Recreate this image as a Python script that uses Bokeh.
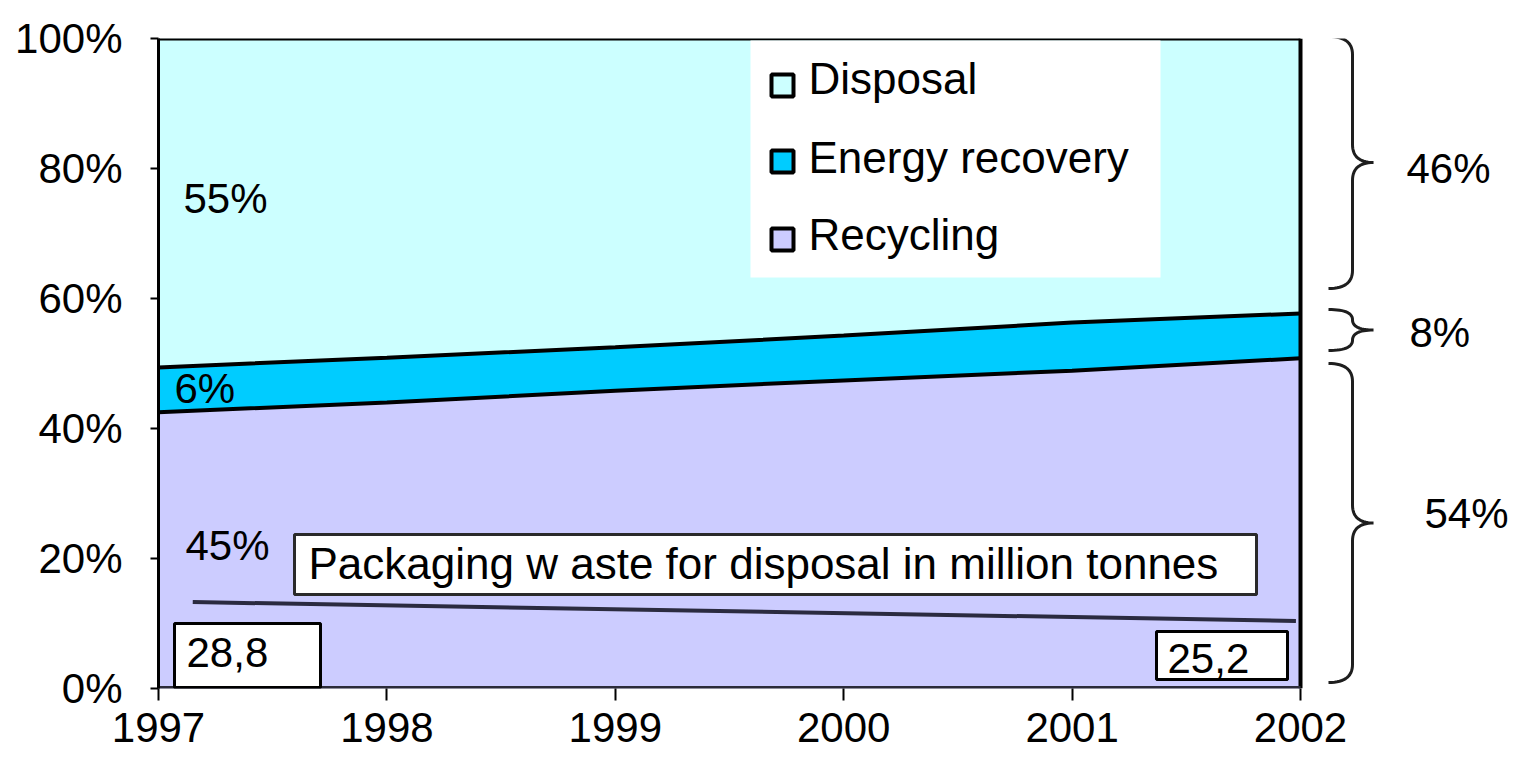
import numpy as np
from bokeh.plotting import figure
from bokeh.models import Range1d, FixedTicker
from bokeh.embed import file_html
from bokeh.resources import INLINE
from bokeh.core.properties import value

# ---------------- data ----------------
years = [1997, 1998, 1999, 2000, 2001, 2002]
recycling = [42.5, 44.0, 45.8, 47.4, 48.9, 50.8]
energy = [6.9, 6.9, 6.7, 6.9, 7.4, 6.9]
series_names = ["Disposal", "Energy recovery", "Recycling"]
series_colors = ["#CCFFFF", "#00CCFF", "#CCCCFF"]
share_labels = ["55%", "6%", "45%"]
brace_labels = ["46%", "8%", "54%"]
waste_years = [1997.15, 2001.98]
waste_line = [13.3, 10.4]
waste_tonnes = ["28,8", "25,2"]
waste_title = "Packaging w aste for disposal in million tonnes"
y_ticks = [0, 20, 40, 60, 80, 100]
y_tick_labels = ["0%", "20%", "40%", "60%", "80%", "100%"]
x_tick_labels = ["1997", "1998", "1999", "2000", "2001", "2002"]

FONT = "Liberation Sans"
FS = "42px"
FS_IN = "44px"

# layout helpers (reference pixel -> data units)
W, H = 1513, 759
LEFT, TOP = 158, 38
FRAME_H = 650
PX_YEAR = 228.4
X0_REF, Y0_REF = LEFT, TOP + FRAME_H
PX_PCT = FRAME_H / 100.0


def dx(px):
    return 1997 + (px - X0_REF) / PX_YEAR


def dy(py):
    return (Y0_REF - py) / PX_PCT


x_end = 1997 + (W - LEFT) / PX_YEAR

p = figure(width=W, height=H, output_backend="svg", toolbar_location=None,
           x_range=Range1d(1997, x_end), y_range=Range1d(0, 100),
           min_border_left=LEFT, min_border_right=0, min_border_top=TOP,
           min_border_bottom=H - TOP - FRAME_H)
p.outline_line_color = None
p.grid.grid_line_color = None
p.background_fill_color = "white"

yrs = np.array(years, dtype=float)
rec = np.array(recycling)
top = rec + np.array(energy)

# stacked areas
p.varea(x=yrs, y1=np.zeros_like(rec), y2=rec, fill_color=series_colors[2])
p.varea(x=yrs, y1=rec, y2=top, fill_color=series_colors[1])
p.varea(x=yrs, y1=top, y2=np.full_like(rec, 100.0), fill_color=series_colors[0])
p.line(yrs, rec, line_color="black", line_width=4)
p.line(yrs, top, line_color="black", line_width=4)

# frame borders
p.line([years[0], years[-1]], [100, 100], line_color="black", line_width=4)
p.line([years[-1], years[-1]], [0, 100], line_color="black", line_width=4)
p.line([years[0], years[-1]], [0, 0], line_color="#2b2b3a", line_width=5)

# axes
p.yaxis.ticker = FixedTicker(ticks=y_ticks)
p.yaxis.major_label_overrides = {t: l for t, l in zip(y_ticks, y_tick_labels)}
p.yaxis.axis_line_color = "black"
p.yaxis.axis_line_width = 3
p.yaxis.major_tick_in = 0
p.yaxis.major_tick_out = 8
p.yaxis.major_tick_line_width = 2
p.yaxis.minor_tick_line_color = None
p.yaxis.major_label_standoff = 28

p.xaxis.ticker = FixedTicker(ticks=years)
p.xaxis.major_label_overrides = {y: l for y, l in zip(years, x_tick_labels)}
p.xaxis.axis_line_color = None
p.xaxis.major_tick_in = 0
p.xaxis.major_tick_out = 12
p.xaxis.major_tick_line_width = 2
p.xaxis.major_tick_line_color = "black"
p.xaxis.minor_tick_line_color = None
p.xaxis.major_label_standoff = 12

for ax in (p.xaxis, p.yaxis):
    ax.major_label_text_font = FONT
    ax.major_label_text_font_size = FS
    ax.major_label_text_color = "black"

# share labels inside areas
p.text(x=[dx(183), dx(174), dx(185)], y=[dy(198), dy(388), dy(545)],
       text=share_labels, text_font=value(FONT), text_font_size=FS,
       text_baseline="middle", text_align="left", text_color="black")

# legend box
p.quad(left=dx(750), right=dx(1160), top=dy(40), bottom=dy(277),
       fill_color="white", line_color=None)
p.scatter(x=[dx(782)] * 3, y=[dy(85), dy(161), dy(239)], marker="square",
          size=22, fill_color=series_colors, line_color="black", line_width=4)
p.text(x=[dx(808)] * 3, y=[dy(78), dy(157), dy(234)], text=series_names,
       text_font=value(FONT), text_font_size=FS_IN, text_baseline="middle",
       text_align="left", text_color="black")

# packaging waste annotation
p.quad(left=dx(294), right=dx(1256), top=dy(534), bottom=dy(594),
       fill_color="white", line_color="#2a2a2a", line_width=3)
p.text(x=[dx(308)], y=[dy(563)], text=[waste_title], text_font=value(FONT),
       text_font_size=FS_IN, text_baseline="middle", text_align="left",
       text_color="black")
p.line(waste_years, waste_line, line_color="#2b2b40", line_width=4)
p.quad(left=[dx(174), dx(1156)], right=[dx(320), dx(1287)],
       top=[dy(623), dy(631)], bottom=[dy(687), dy(679)],
       fill_color="white", line_color="black", line_width=3)
p.text(x=[dx(186), dx(1167)], y=[dy(652), dy(658)], text=waste_tonnes,
       text_font=value(FONT), text_font_size=FS, text_baseline="middle",
       text_align="left", text_color="black")


# braces on the right
def qbez(p0, p1, p2, n=16):
    t = np.linspace(0, 1, n)
    xs = (1 - t) ** 2 * p0[0] + 2 * (1 - t) * t * p1[0] + t ** 2 * p2[0]
    ys = (1 - t) ** 2 * p0[1] + 2 * (1 - t) * t * p1[1] + t ** 2 * p2[1]
    return list(xs), list(ys)


def brace(t, b, xl=1328, xv=1352, xt=1373):
    m = (t + b) / 2.0
    c = min(18, (b - t) / 4.0)
    xs, ys = [], []
    for seg in [((xl, t), (xv, t), (xv, t + c)),
                ((xv, m - c), (xv, m), (xt, m)),
                ((xt, m), (xv, m), (xv, m + c)),
                ((xv, b - c), (xv, b), (xl, b))]:
        a, bb = qbez(*seg)
        xs += a
        ys += bb
    return [dx(v) for v in xs], [dy(v) for v in ys]


brace_spans = [(36, 288), (309, 350), (363, 682)]
for (t, b) in brace_spans:
    bx, by = brace(t, b)
    p.line(bx, by, line_color="#1e1e1e", line_width=3)

p.text(x=[dx(1406), dx(1409), dx(1424)], y=[dy(168), dy(332), dy(513)],
       text=brace_labels, text_font=value(FONT), text_font_size=FS,
       text_baseline="middle", text_align="left", text_color="black")

open("out.html", "w").write(file_html(p, INLINE))
